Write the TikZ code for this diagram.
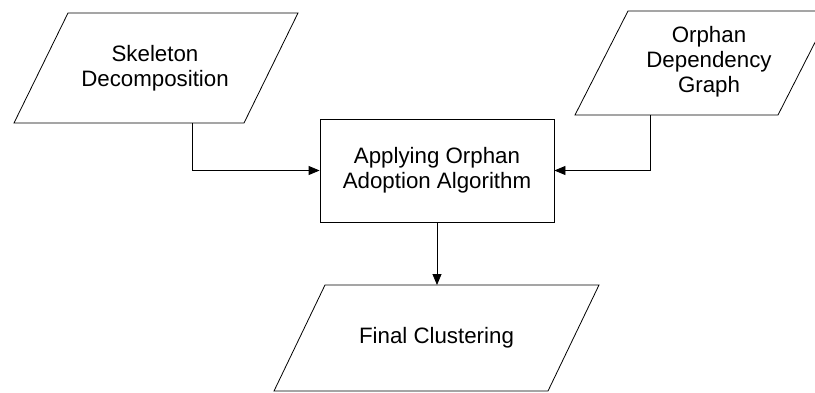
\documentclass[tikz,border=0pt]{standalone}
\usepackage{fontspec}
\setmainfont{Liberation Sans}
\usetikzlibrary{arrows.meta}
\begin{document}
\begin{tikzpicture}[x=1pt,y=-1pt,
  shapeline/.style={draw=black, line width=0.8pt, line join=miter},
  txt/.style={align=center, font=\fontsize{22.3}{25}\selectfont, inner sep=0pt},
  procbox/.style={draw=black, line width=0.8pt, minimum width=234pt, minimum height=103pt, align=center, font=\fontsize{22.3}{25}\selectfont, inner sep=0pt},
  conn/.style={draw=black, line width=0.8pt, -{Triangle[length=11pt,width=9pt]}},
]
\useasboundingbox (0,0) rectangle (815,392);
\clip (0,0) rectangle (815,392);
% Skeleton Decomposition
\draw[shapeline] (68,13) -- (298,13) -- (244,123) -- (14,123) -- cycle;
\node[txt] (skel) at (155,68) {Skeleton\\Decomposition};
\coordinate (skelout) at (192,123);
% Orphan Dependency Graph
\draw[shapeline] (628,11) -- (831,11) -- (778,115) -- (575,115) -- cycle;
\node[txt] (orph) at (709,62) {Orphan\\Dependency\\Graph};
\coordinate (orphout) at (650,115);
% Process box
\node[procbox] (algo) at (437,170.5) {Applying Orphan\\Adoption Algorithm};
% Final Clustering
\draw[shapeline] (325,285) -- (599,285) -- (548,391) -- (274,391) -- cycle;
\node[txt] (final) at (436.5,338) {Final Clustering};
\coordinate (finalin) at (437,285);
% connectors
\draw[conn] (skelout) |- (algo.west);
\draw[conn] (orphout) |- (algo.east);
\draw[conn] (algo.south) -- (finalin);
\end{tikzpicture}
\end{document}
